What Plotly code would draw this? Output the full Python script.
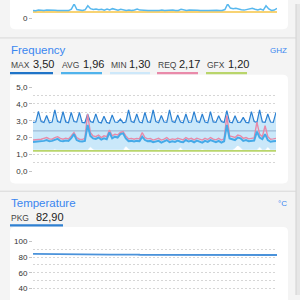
import plotly.graph_objects as go

# ---------------- data ----------------
TOP_LINE = [5.6, 5.4, 5.8, 5.6, 5.5, 5.8, 5.6, 5.5, 5.7, 5.6,
            5.8, 5.5, 5.6, 5.5, 6.5, 10.0, 6.2, 5.8, 5.6, 6.0,
            8.8, 6.8, 6.2, 6.5, 6.0, 6.4, 5.8, 6.6, 5.9, 6.8,
            6.2, 5.8, 6.4, 5.9, 5.6, 5.8, 5.5, 5.9, 6.6, 5.8,
            5.6, 5.8, 5.5, 5.6, 5.8, 5.5, 5.6, 5.9, 5.5, 5.7,
            5.6, 5.8, 5.5, 5.6, 6.4, 5.7, 5.5, 5.8, 5.6, 5.5,
            5.7, 5.6, 5.8, 5.5, 5.6, 5.8, 5.5, 5.7, 5.6, 5.5,
            6.2, 10.0, 7.2, 6.8, 7.0, 6.4, 6.0, 5.8, 6.2, 6.6,
            7.0, 6.4, 5.9, 6.6, 5.8, 8.8, 6.6, 5.6, 5.8, 7.0]
TOP_BASE = 4.5

FREQ_MAX = [2.90, 2.92, 3.56, 2.95, 2.90, 3.31, 2.88, 2.92, 3.64, 2.95,
            2.90, 3.54, 2.93, 2.88, 3.50, 2.95, 2.92, 3.50, 2.90, 2.88,
            3.40, 2.95, 2.90, 3.41, 2.92, 2.87, 3.27, 2.90, 2.85, 3.35,
            2.92, 2.90, 3.10, 2.88, 2.92, 3.64, 2.95, 2.90, 3.40, 2.92,
            2.88, 3.50, 2.93, 2.90, 3.64, 2.95, 2.88, 3.31, 2.92, 2.90,
            3.64, 2.95, 2.90, 3.35, 2.92, 2.88, 3.40, 2.90, 2.92, 3.54,
            2.95, 2.90, 3.40, 2.92, 2.88, 3.54, 2.93, 2.90, 3.30, 2.95,
            2.90, 3.60, 2.92, 2.88, 3.30, 2.90, 2.92, 3.20, 2.90, 2.88,
            3.54, 2.95, 2.90, 3.64, 2.93, 2.90, 3.40, 2.92, 2.90, 3.50]
FREQ_AVG = [1.73, 1.74, 1.76, 1.75, 1.80, 1.85, 1.78, 1.80, 1.88, 1.92,
            1.80, 1.78, 1.82, 1.80, 1.96, 2.20, 1.85, 1.78, 1.76, 1.80,
            2.75, 2.10, 1.95, 1.92, 2.00, 1.88, 1.95, 1.90, 2.30, 1.95,
            2.05, 2.00, 2.20, 2.25, 1.95, 1.78, 1.80, 1.76, 1.80, 1.78,
            2.05, 1.85, 1.78, 1.80, 1.72, 1.78, 1.80, 1.70, 1.76, 1.85,
            1.72, 1.78, 1.74, 1.82, 1.75, 1.72, 1.85, 1.76, 1.80, 1.72,
            1.82, 1.78, 1.70, 1.80, 1.74, 1.85, 1.76, 1.72, 1.80, 1.70,
            1.78, 2.75, 1.95, 1.90, 1.85, 2.00, 1.95, 1.80, 1.85, 1.78,
            1.80, 1.82, 2.35, 2.00, 1.90, 2.20, 1.85, 1.75, 1.78, 1.80]
FREQ_REQ = [1.85, 1.86, 1.88, 1.90, 1.95, 2.00, 1.92, 1.90, 2.00, 2.05,
            1.95, 1.90, 1.96, 1.92, 2.10, 2.30, 2.00, 1.90, 1.88, 1.95,
            3.40, 2.30, 2.10, 2.05, 2.15, 2.00, 2.10, 2.05, 2.45, 2.10,
            2.20, 2.15, 2.30, 2.35, 2.10, 1.92, 1.95, 1.90, 1.95, 1.92,
            2.30, 2.00, 1.92, 1.95, 1.85, 1.92, 1.95, 1.85, 1.90, 2.00,
            1.86, 1.92, 1.88, 1.96, 1.90, 1.86, 2.00, 1.90, 1.95, 1.86,
            1.96, 1.92, 1.85, 1.95, 1.88, 2.00, 1.90, 1.86, 1.95, 1.85,
            1.92, 3.30, 2.10, 2.05, 2.00, 2.15, 2.10, 1.95, 2.00, 1.92,
            1.95, 1.98, 2.92, 2.20, 2.05, 2.70, 2.05, 1.90, 1.92, 1.95]
FREQ_MIN = [1.27, 1.27, 1.27, 1.27, 1.27, 1.27, 1.27, 1.27, 1.32, 1.27,
            1.27, 1.27, 1.27, 1.27, 1.27, 1.27, 1.27, 1.27, 1.27, 1.27,
            1.27, 1.45, 1.32, 1.27, 1.27, 1.27, 1.27, 1.27, 1.27, 1.27,
            1.27, 1.27, 1.27, 1.27, 1.50, 1.33, 1.27, 1.27, 1.27, 1.27,
            1.27, 1.27, 1.27, 1.27, 1.27, 1.27, 1.33, 1.27, 1.27, 1.27,
            1.27, 1.27, 1.27, 1.27, 1.42, 1.27, 1.27, 1.27, 1.27, 1.27,
            1.27, 1.27, 1.33, 1.27, 1.27, 1.27, 1.27, 1.27, 1.27, 1.27,
            1.27, 1.27, 1.27, 1.27, 1.38, 1.55, 1.40, 1.27, 1.27, 1.27,
            1.27, 1.27, 1.27, 1.45, 1.27, 1.27, 1.45, 1.27, 1.27, 1.27]
FREQ_GFX = 1.20
FREQ_REF = 2.40

TEMP_PKG = [84.2, 84.2, 84.1, 84.1, 84.0, 84.0, 84.0, 83.9, 83.9, 83.8,
            83.8, 83.8, 83.7, 83.7, 83.8, 83.6, 83.6, 83.5, 83.6, 83.5,
            83.5, 83.4, 83.6, 83.4, 83.4, 83.3, 83.4, 83.3, 83.3, 83.2,
            83.3, 83.2, 83.2, 83.3, 83.2, 83.1, 83.2, 83.1, 83.2, 83.1,
            83.1, 83.0, 83.1, 83.0, 83.1, 83.0, 83.0, 83.1, 83.0, 83.0,
            83.0, 83.1, 83.0, 83.0, 83.1, 83.0, 83.0, 83.1, 83.2, 83.0,
            83.1, 83.0, 83.2, 83.0, 83.1, 83.2, 83.1, 83.0, 82.8, 82.6,
            82.5, 82.4, 82.5, 82.4, 82.5, 82.6, 82.5, 82.4, 82.5, 82.6,
            82.5, 82.6, 82.5, 82.7, 82.6, 82.5, 82.6, 82.5, 82.7, 82.8]

FREQ_LEGEND = [("MAX", "3,50"), ("AVG", "1,96"), ("MIN", "1,30"), ("REQ", "2,17"), ("GFX", "1,20")]
TEMP_LEGEND = [("PKG", "82,90")]

# ---------------- styling ----------------
C_MAX = "#2b80d2"
C_AVG = "#45aae8"
C_MIN = "#d3ecfb"
C_FILL = "#cae8fa"
C_REQ = "#e889a8"
C_GFX = "#b9d56b"
C_REF = "#9dbbd6"
C_TOP = "#58b8ee"
C_TOPB = "#f6c444"
C_TEMP = "#4a92da"
BLUE_TXT = "#3a86f0"
BAR_COLORS = ["#1f74c8", "#50b3ec", "#cde8fa", "#e98aaa", "#b9d56b"]
FONT = "Liberation Sans, Arial, sans-serif"
GRID = "#d6d6d6"
DASH = "2px,2px"

def fx(x):
    return x / 300.0

def fy(y):
    return 1 - y / 300.0

def rrect(x0, y0, x1, y1, r, fill):
    p = (f"M {fx(x0 + r)},{fy(y0)} L {fx(x1 - r)},{fy(y0)} Q {fx(x1)},{fy(y0)} {fx(x1)},{fy(y0 + r)} "
         f"L {fx(x1)},{fy(y1 - r)} Q {fx(x1)},{fy(y1)} {fx(x1 - r)},{fy(y1)} "
         f"L {fx(x0 + r)},{fy(y1)} Q {fx(x0)},{fy(y1)} {fx(x0)},{fy(y1 - r)} "
         f"L {fx(x0)},{fy(y0 + r)} Q {fx(x0)},{fy(y0)} {fx(x0 + r)},{fy(y0)} Z")
    return dict(type="path", path=p, xref="paper", yref="paper", fillcolor=fill,
                line=dict(width=0), layer="below")

n = len(FREQ_MAX)
xs = list(range(n))

fig = go.Figure()

# top chart
fig.add_trace(go.Scatter(x=[0, n - 1], y=[TOP_BASE, TOP_BASE], mode="lines",
                         line=dict(color=C_TOPB, width=1.6), xaxis="x", yaxis="y"))
fig.add_trace(go.Scatter(x=xs, y=TOP_LINE, mode="lines",
                         line=dict(color=C_TOP, width=1.5), xaxis="x", yaxis="y"))

# frequency chart
fig.add_trace(go.Scatter(x=xs, y=FREQ_MIN, mode="lines",
                         line=dict(color=C_MIN, width=0.8), xaxis="x2", yaxis="y2"))
fig.add_trace(go.Scatter(x=xs, y=FREQ_MAX, mode="lines", fill="tonexty", fillcolor=C_FILL,
                         line=dict(color=C_MAX, width=1.2), xaxis="x2", yaxis="y2"))
fig.add_trace(go.Scatter(x=[0, n - 1], y=[FREQ_REF, FREQ_REF], mode="lines",
                         line=dict(color=C_REF, width=1.3), xaxis="x2", yaxis="y2"))
fig.add_trace(go.Scatter(x=[0, n - 1], y=[FREQ_GFX, FREQ_GFX], mode="lines",
                         line=dict(color=C_GFX, width=1.8), xaxis="x2", yaxis="y2"))
fig.add_trace(go.Scatter(x=xs, y=FREQ_REQ, mode="lines",
                         line=dict(color=C_REQ, width=1.4), xaxis="x2", yaxis="y2"))
fig.add_trace(go.Scatter(x=xs, y=FREQ_AVG, mode="lines",
                         line=dict(color=C_AVG, width=2), xaxis="x2", yaxis="y2"))

# temperature chart
fig.add_trace(go.Scatter(x=xs, y=TEMP_PKG, mode="lines",
                         line=dict(color=C_TEMP, width=1.8), xaxis="x3", yaxis="y3"))

shapes = []
# right strip
shapes.append(dict(type="rect", xref="paper", yref="paper", x0=fx(296), x1=1, y0=0, y1=1,
                   fillcolor="#e6e6e6", line=dict(width=0), layer="below"))
shapes.append(dict(type="line", xref="paper", yref="paper", x0=fx(296), x1=fx(296), y0=0, y1=1,
                   line=dict(color="#d2d2d2", width=1), layer="below"))
# separators
for ysep in (35, 193):
    shapes.append(dict(type="line", xref="paper", yref="paper", x0=0, x1=fx(296), y0=fy(ysep), y1=fy(ysep),
                       line=dict(color="#d8d8d8", width=1), layer="below"))
# cards
shapes.append(rrect(10, -10, 288, 26, 5, "#ffffff"))
shapes.append(rrect(10, 73, 288, 185, 5, "#ffffff"))
shapes.append(rrect(10, 230, 288, 320, 5, "#ffffff"))

# legend bars
bar_x = [(10, 53), (61, 102), (110, 150), (157, 198), (206, 247)]
for (x0, x1), c in zip(bar_x, BAR_COLORS):
    shapes.append(dict(type="rect", xref="paper", yref="paper", x0=fx(x0), x1=fx(x1), y0=fy(72.5), y1=fy(70),
                       fillcolor=c, line=dict(width=0)))
shapes.append(dict(type="rect", xref="paper", yref="paper", x0=fx(10), x1=fx(63), y0=fy(229.5), y1=fy(227),
                   fillcolor="#2f80d2", line=dict(width=0)))

ann = []
def txt(x, y, s, size, color, anchor="left"):
    ann.append(dict(x=fx(x), y=fy(y), xref="paper", yref="paper", text=s, showarrow=False,
                    xanchor=anchor, yanchor="middle", font=dict(family=FONT, size=size, color=color)))

txt(9, 47, "Frequency", 11.5, BLUE_TXT)
txt(289, 48, "GHZ", 8, BLUE_TXT, "right")
lab_x = [(10, 32), (61, 82), (110, 128), (157, 178), (206, 227)]
for (lx, vx), (lab, val) in zip(lab_x, FREQ_LEGEND):
    txt(lx - 1, 62.5, lab, 8.5, "#444444")
    txt(vx - 1, 61.5, val, 11, "#222222")

txt(9, 205, "Temperature", 11.5, BLUE_TXT)
txt(289, 206, "°C", 8, BLUE_TXT, "right")
for lab, val in TEMP_LEGEND:
    txt(9, 221, lab, 8.5, "#444444")
    txt(34, 220, val, 11, "#222222")

tickfont = dict(family=FONT, size=8, color="#333333")
xcommon = dict(showticklabels=False, zeroline=False, showline=False, tickvals=[0],
               showgrid=True, griddash=DASH, gridcolor=GRID, gridwidth=1, ticks="", fixedrange=True)
ycommon = dict(showgrid=True, griddash=DASH, gridcolor=GRID, zeroline=False, showline=False,
               ticks="outside", ticklen=3, tickcolor="#c4c4c4", tickfont=tickfont)

fig.update_layout(
    width=300, height=300, margin=dict(l=0, r=0, t=0, b=0),
    paper_bgcolor="#f4f4f4", plot_bgcolor="rgba(0,0,0,0)",
    showlegend=False, separators=", ",
    shapes=shapes, annotations=ann,
    xaxis=dict(domain=[fx(33), fx(277)], range=[0, n - 1], anchor="y", **xcommon),
    yaxis=dict(domain=[fy(15), 1.0], range=[0, 10], anchor="x", tickvals=[0], ticktext=["0"], **ycommon),
    xaxis2=dict(domain=[fx(33), fx(276)], range=[0, n - 1], anchor="y2", **xcommon),
    yaxis2=dict(domain=[fy(172.3), fy(85.7)], range=[0, 5], anchor="x2", dtick=1, tick0=0,
                tickformat=".1f", minor=dict(dtick=0.5, showgrid=True, griddash=DASH, gridcolor=GRID),
                **ycommon),
    xaxis3=dict(domain=[fx(33), fx(277)], range=[0, n - 1], anchor="y3", **xcommon),
    yaxis3=dict(domain=[0, fy(245)], range=[31.25, 100], anchor="x3", dtick=20, tick0=0,
                minor=dict(dtick=10, showgrid=True, griddash=DASH, gridcolor=GRID), **ycommon),
)

fig.write_html("out.html")
